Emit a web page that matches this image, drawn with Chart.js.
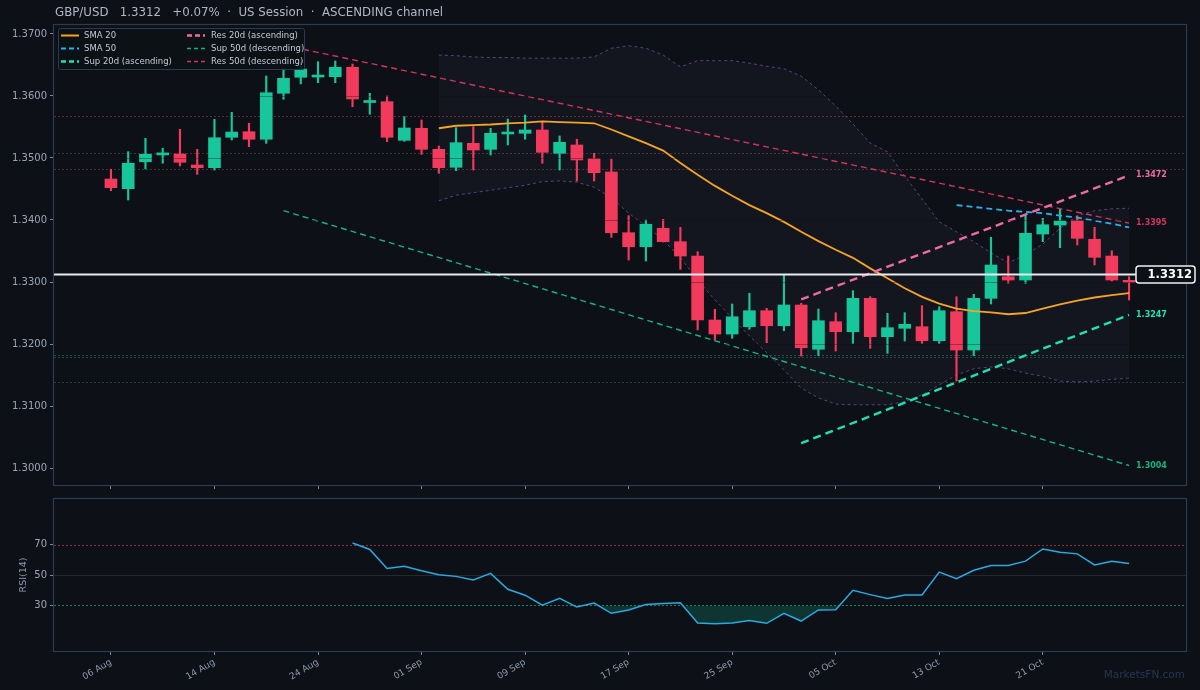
<!DOCTYPE html>
<html><head><meta charset="utf-8">
<script src="https://cdn.jsdelivr.net/npm/chart.js@4.4.1/dist/chart.umd.min.js"></script>
<style>
html,body{margin:0;padding:0;background:#0d1117;}
#wrap{position:relative;width:1200px;height:690px;background:#0d1117;overflow:hidden;}
#c1{position:absolute;left:0;top:0;}
#c2{position:absolute;left:0;top:490px;}
</style></head><body>
<div id="wrap"><canvas id="c1" width="1200" height="500"></canvas><canvas id="c2" width="1200" height="200"></canvas></div>
<script>
// ---------------- DATA ----------------
const dates = ['06 Aug','07 Aug','08 Aug','11 Aug','12 Aug','13 Aug','14 Aug','15 Aug','18 Aug','19 Aug','20 Aug','21 Aug','24 Aug',
  '25 Aug','26 Aug','27 Aug','28 Aug','29 Aug','01 Sep','02 Sep','03 Sep','04 Sep','05 Sep','08 Sep','09 Sep',
  '10 Sep','11 Sep','12 Sep','15 Sep','16 Sep','17 Sep','18 Sep','19 Sep','22 Sep','23 Sep','24 Sep','25 Sep',
  '26 Sep','29 Sep','30 Sep','01 Oct','02 Oct','05 Oct','06 Oct','07 Oct','08 Oct','09 Oct','12 Oct','13 Oct',
  '14 Oct','15 Oct','16 Oct','19 Oct','20 Oct','21 Oct','22 Oct','23 Oct','26 Oct','27 Oct','28 Oct'];
const tickIdx = [0,6,12,18,24,30,36,42,48,54];

const opens = [1.34661,1.34505,1.34940,1.35050,1.35065,1.34887,1.34844,1.35334,1.35424,1.35302,
  1.36044,1.36302,1.36306,1.36311,1.36463,1.35895,1.35908,1.35285,1.35479,1.35140,
  1.34850,1.35237,1.35140,1.35387,1.35398,1.35452,1.35076,1.35210,1.34989,1.34774,
  1.33795,1.33569,1.33866,1.33650,1.33419,1.32387,1.32161,1.32279,1.32537,1.32295,
  1.32629,1.31915,1.32360,1.32198,1.32737,1.32118,1.32253,1.32279,1.32053,1.32521,
  1.31903,1.32737,1.33085,1.33032,1.33774,1.33919,1.33989,1.33689,1.33419,1.33016];
const highs = [1.34818,1.35102,1.35318,1.35157,1.35463,1.35140,1.35624,1.35737,1.35560,1.36323,
  1.36447,1.36565,1.36553,1.36565,1.36516,1.36044,1.36000,1.35666,1.35613,1.35194,
  1.35489,1.35505,1.35479,1.35629,1.35694,1.35585,1.35355,1.35302,1.35076,1.34984,
  1.34069,1.34000,1.34011,1.33882,1.33489,1.32560,1.32645,1.32818,1.32576,1.33124,
  1.32656,1.32565,1.32505,1.32860,1.32763,1.32495,1.32505,1.32618,1.32602,1.32763,
  1.32802,1.33721,1.33419,1.34081,1.34027,1.34173,1.34065,1.33882,1.33505,1.33085];
const lows = [1.34473,1.34323,1.34823,1.34915,1.34871,1.34737,1.34806,1.35290,1.35182,1.35237,
  1.35947,1.36194,1.36215,1.36215,1.35827,1.35705,1.35263,1.35270,1.35060,1.34753,
  1.34795,1.34806,1.35048,1.35210,1.35302,1.34915,1.34806,1.34629,1.34629,1.33721,
  1.33355,1.33339,1.33645,1.33205,1.32226,1.32065,1.32092,1.32237,1.32021,1.32215,
  1.31806,1.31811,1.31887,1.32011,1.31931,1.31850,1.32048,1.32011,1.32011,1.31403,
  1.31811,1.32645,1.32979,1.32979,1.33650,1.33553,1.33597,1.33274,1.33016,1.32710];
const closes = [1.34521,1.34915,1.35060,1.35065,1.34931,1.34844,1.35327,1.35419,1.35302,1.36053,
  1.36285,1.36435,1.36318,1.36463,1.35952,1.35903,1.35334,1.35484,1.35140,1.34844,
  1.35247,1.35129,1.35398,1.35395,1.35452,1.35092,1.35253,1.34968,1.34763,1.33795,
  1.33569,1.33931,1.33650,1.33419,1.32387,1.32161,1.32440,1.32537,1.32295,1.32629,
  1.31940,1.32376,1.32198,1.32737,1.32118,1.32263,1.32318,1.32053,1.32537,1.31903,
  1.32737,1.33274,1.33032,1.33785,1.33924,1.33984,1.33705,1.33398,1.33032,1.32995];

const sma20 = [...Array(19).fill(null),
  1.3548,1.3552,1.3553,1.3554,1.3556,1.3557,1.3559,1.3558,1.3557,1.3556,
  1.3546,1.3535,1.3524,1.3512,1.3492,1.3473,1.3455,1.3439,1.3424,1.3411,
  1.3397,1.3381,1.3366,1.3352,1.3339,1.3322,1.3306,1.3290,1.3276,1.3265,
  1.3257,1.3253,1.3251,1.3248,1.3250,1.3257,1.3264,1.3270,1.3275,1.3279,1.3282];
const sma50 = [...Array(49).fill(null),
  1.3424,1.3421,1.3418,1.3415,1.3413,1.3411,1.3407,1.3404,1.3399,1.3394,1.3388];
const bbUpper = [...Array(19).fill(null),
  1.3666,1.3665,1.3663,1.3662,1.3662,1.3661,1.3661,1.3661,1.3661,1.3663,
  1.3677,1.3681,1.3677,1.3666,1.3647,1.3657,1.3657,1.3657,1.3653,1.3648,
  1.3644,1.3632,1.3610,1.3584,1.3555,1.3524,1.3510,1.3471,1.3434,1.3397,
  1.3381,1.3365,1.3347,1.3331,1.3344,1.3361,1.3387,1.3407,1.3415,1.3418,1.3419];
const bbLower = [...Array(19).fill(null),
  1.3431,1.3440,1.3444,1.3448,1.3452,1.3456,1.3462,1.3463,1.3461,1.3453,
  1.3436,1.3411,1.3390,1.3368,1.3339,1.3303,1.3271,1.3242,1.3213,1.3186,
  1.3158,1.3129,1.3113,1.3103,1.3102,1.3102,1.3102,1.3107,1.3118,1.3134,
  1.3150,1.3160,1.3163,1.3160,1.3153,1.3148,1.3140,1.3139,1.3140,1.3143,1.3145];
const rsi14 = [...Array(14).fill(null),
  71.1,66.8,54.3,55.8,52.8,50.2,49.1,46.7,51.1,40.6,
  36.7,30.2,34.7,28.9,31.5,24.8,27.0,30.6,31.3,31.7,
  18.4,18.0,18.4,20.1,18.2,24.8,19.7,27.0,27.2,39.9,
  37.1,34.5,36.9,36.9,51.9,47.6,53.1,56.3,56.3,59.1,
  67.1,65.0,63.9,56.6,59.1,57.6];

const idx20 = [40, 59];
const res20 = [1.3272, 1.3472];
const sup20 = [1.3040, 1.3247];
const idx50 = [10, 59];
const res50 = [1.3682, 1.3395];
const sup50 = [1.3415, 1.3004];
const lastPrice = 1.3312;
const levels = [1.3568, 1.3508, 1.3482, 1.3182, 1.3179, 1.3138];
const priceTicks = [1.30,1.31,1.32,1.33,1.34,1.35,1.36,1.37];
const rsiTicks = [30, 50, 70];
const rsiLevels = [70, 50, 30];

// ---------------- STYLE ----------------
const FRAME = '#2a3b52', TICKC = '#7d8a9c', LABC = '#9aa6b6';
const GREEN = '#17c69b', RED = '#f23a5c';
const C_SMA20 = '#f5a524', C_SMA50 = '#29b2ea', C_SUP20 = '#1de3b3', C_RES20 = '#ef6aa2',
      C_SUP50 = '#17b27e', C_RES50 = '#d3345e';
const levelColors = ['rgba(190,80,80,0.45)','rgba(150,95,85,0.4)','rgba(150,95,85,0.4)',
  'rgba(40,160,110,0.45)','rgba(40,160,110,0.4)','rgba(110,130,125,0.35)'];
Chart.defaults.font.family = "'DejaVu Sans', sans-serif";

const pts = arr => arr.map((v, i) => ({x: i, y: v}));
const seg = (ix, vals) => ix.map((x, k) => ({x: x, y: vals[k]}));
const body = closes.map((c, i) => ({x: i, y: [opens[i], c]}));
const wick = closes.map((c, i) => ({x: i, y: [lows[i], highs[i]]}));
const candleColor = ctx => (closes[ctx.dataIndex] >= opens[ctx.dataIndex] ? GREEN : RED);

const xMin = -3.3, xMax = 62.3;

function frame(ctx, a) {
  ctx.save();
  ctx.strokeStyle = FRAME; ctx.lineWidth = 1.2;
  ctx.strokeRect(a.left - 0.5, a.top - 0.5, a.right - a.left + 1, a.bottom - a.top + 1);
  ctx.restore();
}

const legendItems = [
  {t:'SMA 20', c:C_SMA20, d:[], w:2},
  {t:'SMA 50', c:C_SMA50, d:[5,3], w:2},
  {t:'Sup 20d (ascending)', c:C_SUP20, d:[5,3], w:2.4},
  {t:'Res 20d (ascending)', c:C_RES20, d:[5,3], w:2.4},
  {t:'Sup 50d (descending)', c:C_SUP50, d:[4,3], w:1.5},
  {t:'Res 50d (descending)', c:C_RES50, d:[4,3], w:1.5}
];

const mainDeco = {
  id: 'mainDeco',
  beforeDatasetsDraw(chart) {
    const {ctx, chartArea: a, scales: {y}} = chart;
    ctx.save();
    ctx.lineWidth = 1; ctx.setLineDash([2, 2]);
    levels.forEach((v, k) => {
      const py = Math.round(y.getPixelForValue(v)) + 0.5;
      ctx.strokeStyle = levelColors[k];
      ctx.beginPath(); ctx.moveTo(a.left, py); ctx.lineTo(a.right, py); ctx.stroke();
    });
    ctx.restore();
  },
  afterDatasetsDraw(chart) {
    const {ctx, chartArea: a, scales: {y}} = chart;
    ctx.save();
    ctx.strokeStyle = 'rgba(12,15,22,0.35)'; ctx.lineWidth = 1;
    priceTicks.forEach(v => {
      const py = Math.round(y.getPixelForValue(v)) + 0.5;
      ctx.beginPath(); ctx.moveTo(a.left, py); ctx.lineTo(a.right, py); ctx.stroke();
    });
    const py = y.getPixelForValue(lastPrice);
    ctx.strokeStyle = '#e9ecef'; ctx.lineWidth = 2;
    ctx.beginPath(); ctx.moveTo(a.left, py); ctx.lineTo(a.right, py); ctx.stroke();
    ctx.restore();
  },
  afterDraw(chart) {
    const {ctx, chartArea: a, scales: {x, y}} = chart;
    frame(ctx, a);
    ctx.save();
    const lx = x.getPixelForValue(idx20[1]) + 7;
    ctx.font = 'bold 8px "DejaVu Sans"';
    ctx.textAlign = 'left'; ctx.textBaseline = 'middle';
    [[res20[1], C_RES20], [res50[1], C_RES50], [sup20[1], C_SUP20], [sup50[1], C_SUP50]].forEach(([v, c]) => {
      ctx.fillStyle = c; ctx.fillText(v.toFixed(4), lx, y.getPixelForValue(v));
    });
    const py = y.getPixelForValue(lastPrice);
    const bx = 1136, bw = 59, bh = 17, by = py - bh / 2;
    ctx.beginPath(); ctx.roundRect(bx, by, bw, bh, 3);
    ctx.fillStyle = '#0d1117'; ctx.fill();
    ctx.strokeStyle = '#f0f2f4'; ctx.lineWidth = 1.5; ctx.stroke();
    ctx.fillStyle = '#ffffff'; ctx.font = 'bold 11.5px "DejaVu Sans"';
    ctx.textAlign = 'right'; ctx.fillText(lastPrice.toFixed(4), bx + bw - 3, py + 0.5);
    ctx.textAlign = 'left'; ctx.fillStyle = '#aeb8c6'; ctx.font = '11.8px "DejaVu Sans"';
    ctx.fillText('GBP/USD   ' + lastPrice.toFixed(4) + '   +0.07%  \u00b7  US Session  \u00b7  ASCENDING channel', 55, 13);
    ctx.beginPath(); ctx.roundRect(58.5, 28.5, 246, 41, 2);
    ctx.fillStyle = 'rgba(13,17,23,0.88)'; ctx.fill();
    ctx.strokeStyle = '#2a3a50'; ctx.lineWidth = 1; ctx.stroke();
    ctx.font = '8.5px "DejaVu Sans"';
    legendItems.forEach((it, k) => {
      const col = Math.floor(k / 3), row = k % 3;
      const x0 = col === 0 ? 61 : 187, tx = col === 0 ? 84 : 211;
      const yy = 35.5 + row * 13;
      ctx.strokeStyle = it.c; ctx.lineWidth = it.w; ctx.setLineDash(it.d);
      ctx.beginPath(); ctx.moveTo(x0, yy); ctx.lineTo(x0 + 18, yy); ctx.stroke();
      ctx.setLineDash([]);
      ctx.fillStyle = '#c2cad5'; ctx.fillText(it.t, tx, yy + 0.5);
    });
    ctx.restore();
  }
};

new Chart(document.getElementById('c1'), {
  type: 'bar',
  data: { datasets: [
    {type:'line', label:'Res 20d (ascending)', data: seg(idx20, res20), borderColor: C_RES20, borderWidth: 2.4, borderDash:[8,5], pointRadius: 0, order: 1},
    {type:'line', label:'Sup 20d (ascending)', data: seg(idx20, sup20), borderColor: C_SUP20, borderWidth: 2.4, borderDash:[8,5], pointRadius: 0, order: 1},
    {type:'line', label:'Res 50d (descending)', data: seg(idx50, res50), borderColor: C_RES50, borderWidth: 1.4, borderDash:[6,4], pointRadius: 0, order: 1},
    {type:'line', label:'Sup 50d (descending)', data: seg(idx50, sup50), borderColor: C_SUP50, borderWidth: 1.4, borderDash:[6,4], pointRadius: 0, order: 1},
    {type:'line', label:'SMA 50', data: pts(sma50), borderColor: C_SMA50, borderWidth: 1.8, borderDash:[6,4], pointRadius: 0, order: 2},
    {type:'line', label:'SMA 20', data: pts(sma20), borderColor: C_SMA20, borderWidth: 1.8, pointRadius: 0, tension: 0, order: 3},
    {type:'bar', label:'body', data: body, backgroundColor: candleColor, borderWidth: 0, barThickness: 12, minBarLength: 2, grouped: false, order: 4},
    {type:'bar', label:'wick', data: wick, backgroundColor: candleColor, borderWidth: 0, barThickness: 1.5, grouped: false, order: 5},
    {type:'line', label:'BB upper', data: pts(bbUpper), borderColor: 'rgba(150,105,200,0.55)', borderWidth: 1, borderDash:[3,3], pointRadius: 0, fill: '+1', backgroundColor: 'rgba(150,120,200,0.05)', order: 7},
    {type:'line', label:'BB lower', data: pts(bbLower), borderColor: 'rgba(150,105,200,0.55)', borderWidth: 1, borderDash:[3,3], pointRadius: 0, fill: false, order: 7}
  ]},
  options: {
    responsive: false, animation: false, devicePixelRatio: 1, events: [],
    layout: {padding: {top: 25, right: 14, left: 0, bottom: 0}},
    plugins: {legend: {display: false}, tooltip: {enabled: false}},
    scales: {
      x: {type:'linear', min: xMin, max: xMax, offset: false,
          grid: {offset: false, drawOnChartArea: false, drawTicks: true, tickLength: 4, tickColor: TICKC},
          border: {display: false}, ticks: {display: false},
          afterBuildTicks: s => { s.ticks = tickIdx.map(v => ({value: v})); },
          afterFit: s => { s.height = 15; }},
      y: {type:'linear', min: 1.29726, max: 1.37145, beginAtZero: false,
          grid: {drawOnChartArea: false, drawTicks: true, tickLength: 4, tickColor: TICKC},
          border: {display: false},
          ticks: {color: LABC, font: {size: 10}, padding: 3, callback: v => Number(v).toFixed(4)},
          afterBuildTicks: s => { s.ticks = priceTicks.map(v => ({value: v})); },
          afterFit: s => { s.width = 54; }}
    }
  },
  plugins: [mainDeco]
});

const rsiDeco = {
  id: 'rsiDeco',
  beforeDatasetsDraw(chart) {
    const {ctx, chartArea: a, scales: {y}} = chart;
    ctx.save(); ctx.lineWidth = 1;
    const styles = [['rgba(205,70,70,0.65)', [2,2]], ['rgba(255,255,255,0.10)', []], ['rgba(30,180,130,0.65)', [2,2]]];
    rsiLevels.forEach((v, k) => {
      const py = Math.round(y.getPixelForValue(v)) + 0.5;
      ctx.strokeStyle = styles[k][0]; ctx.setLineDash(styles[k][1]);
      ctx.beginPath(); ctx.moveTo(a.left, py); ctx.lineTo(a.right, py); ctx.stroke();
    });
    ctx.restore();
  },
  afterDraw(chart) {
    const {ctx, chartArea: a, scales: {y}} = chart;
    frame(ctx, a);
    ctx.save();
    ctx.fillStyle = '#8d99ab'; ctx.font = '9.5px "DejaVu Sans"';
    ctx.textAlign = 'center'; ctx.textBaseline = 'middle';
    ctx.translate(24, y.getPixelForValue(50)); ctx.rotate(-Math.PI / 2);
    ctx.fillText('RSI(14)', 0, 0);
    ctx.restore();
    ctx.save();
    ctx.fillStyle = '#263650'; ctx.font = '10.5px "DejaVu Sans"';
    ctx.textAlign = 'right'; ctx.textBaseline = 'middle';
    ctx.fillText('MarketsFN.com', 1185, 185);
    ctx.restore();
  }
};

new Chart(document.getElementById('c2'), {
  type: 'line',
  data: { datasets: [
    {label:'RSI(14)', data: pts(rsi14), borderColor: '#2aaae2', borderWidth: 1.5, pointRadius: 0, tension: 0,
     fill: {target: {value: 30}, above: 'rgba(0,0,0,0)', below: 'rgba(22,199,154,0.2)'}}
  ]},
  options: {
    responsive: false, animation: false, devicePixelRatio: 1, events: [],
    layout: {padding: {top: 7, right: 14, left: 0, bottom: 0}},
    plugins: {legend: {display: false}, tooltip: {enabled: false}},
    scales: {
      x: {type:'linear', min: xMin, max: xMax, offset: false,
          grid: {offset: false, drawOnChartArea: false, drawTicks: true, tickLength: 4, tickColor: TICKC},
          border: {display: false},
          ticks: {color: '#8d99ab', font: {size: 9}, minRotation: 30, maxRotation: 30, autoSkip: false, padding: 2,
                  callback: v => (dates[v] !== undefined ? dates[v] : '')},
          afterBuildTicks: s => { s.ticks = tickIdx.map(v => ({value: v})); },
          afterFit: s => { s.height = 39; }},
      y: {type:'linear', min: 0, max: 100,
          grid: {drawOnChartArea: false, drawTicks: true, tickLength: 4, tickColor: TICKC},
          border: {display: false},
          ticks: {color: LABC, font: {size: 10}, padding: 3},
          afterBuildTicks: s => { s.ticks = rsiTicks.map(v => ({value: v})); },
          afterFit: s => { s.width = 54; }}
    }
  },
  plugins: [rsiDeco]
});
</script></body></html>
